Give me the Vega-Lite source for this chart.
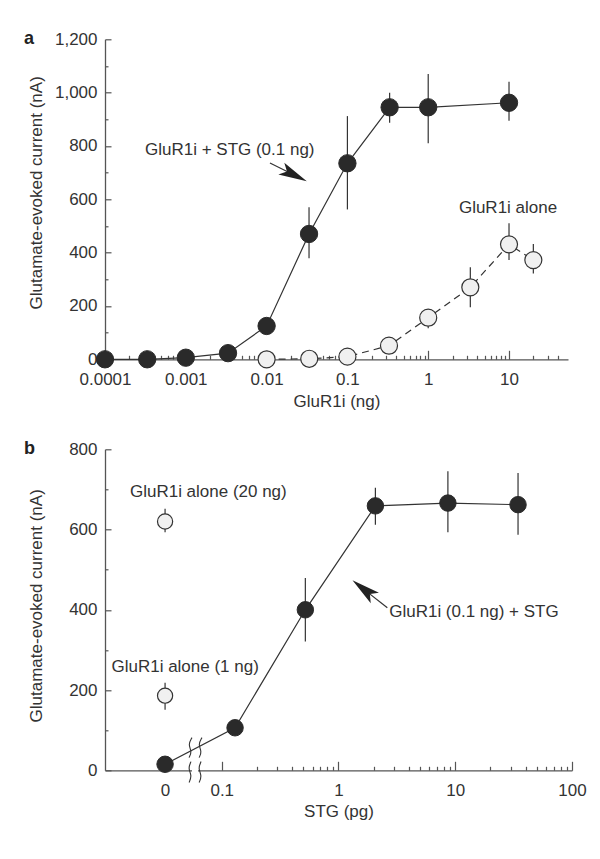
{
  "$schema": "https://vega.github.io/schema/vega-lite/v6.json",
  "background": "white",
  "padding": {"left": 24, "top": 29.3, "right": 5, "bottom": 5},
  "spacing": 90,
  "bounds": "flush",
  "config": {
    "view": {"stroke": null},
    "font": "Liberation Sans",
    "axis": {
      "domainColor": "#555", "tickColor": "#555", "labelColor": "#333", "titleColor": "#333",
      "labelFont": "Liberation Sans", "titleFont": "Liberation Sans",
      "labelFontSize": 17, "titleFontSize": 17, "titleFontWeight": "normal",
      "grid": false, "labelFlush": false, "labelOverlap": false, "labelBound": false,
      "domainWidth": 1.3, "tickWidth": 1.2
    },
    "text": {"font": "Liberation Sans", "fontSize": 17, "color": "#333"}
  },
  "datasets": {
    "a_stg": [
      {"dose": 0.0001, "current": 0, "lo": -8, "hi": 8},
      {"dose": 0.000333, "current": 0, "lo": -8, "hi": 8},
      {"dose": 0.001, "current": 6, "lo": -4, "hi": 16},
      {"dose": 0.00333, "current": 23, "lo": 10, "hi": 36},
      {"dose": 0.01, "current": 125, "lo": 105, "hi": 145},
      {"dose": 0.0335, "current": 470, "lo": 379, "hi": 570},
      {"dose": 0.1, "current": 735, "lo": 562, "hi": 912},
      {"dose": 0.333, "current": 945, "lo": 887, "hi": 1000},
      {"dose": 1, "current": 945, "lo": 810, "hi": 1070},
      {"dose": 10, "current": 962, "lo": 895, "hi": 1041}
    ],
    "a_alone": [
      {"dose": 0.01, "current": 0, "lo": -8, "hi": 8},
      {"dose": 0.0337, "current": 2, "lo": -6, "hi": 10},
      {"dose": 0.1, "current": 10, "lo": 0, "hi": 20},
      {"dose": 0.327, "current": 51, "lo": 35, "hi": 67},
      {"dose": 1, "current": 156, "lo": 116, "hi": 185},
      {"dose": 3.32, "current": 270, "lo": 195, "hi": 345},
      {"dose": 10, "current": 431, "lo": 372, "hi": 510},
      {"dose": 20, "current": 372, "lo": 322, "hi": 432}
    ],
    "a_text": [
      {"dose": 0.000313, "current": 767, "label": "GluR1i + STG (0.1 ng)"},
      {"dose": 2.4, "current": 547, "label": "GluR1i alone"}
    ],
    "a_arrow": [
      {"dose": 0.011, "current": 736, "dose2": 0.021, "current2": 694, "angle": 116.6}
    ],
    "b_stg": [
      {"dose": 0.0327, "stg_pg": 0, "current": 15, "lo": 5, "hi": 25},
      {"dose": 0.13, "stg_pg": 0.13, "current": 106, "lo": 96, "hi": 116},
      {"dose": 0.52, "stg_pg": 0.52, "current": 400, "lo": 321, "hi": 479},
      {"dose": 2.07, "stg_pg": 2.07, "current": 659, "lo": 612, "hi": 704},
      {"dose": 8.65, "stg_pg": 8.65, "current": 666, "lo": 593, "hi": 745},
      {"dose": 34.5, "stg_pg": 34.5, "current": 662, "lo": 587, "hi": 741}
    ],
    "b_alone": [
      {"dose": 0.0327, "stg_pg": 0, "current": 620, "lo": 593, "hi": 652},
      {"dose": 0.0327, "stg_pg": 0, "current": 186, "lo": 151, "hi": 218}
    ],
    "b_text": [
      {"dose": 0.01637, "current": 681, "label": "GluR1i alone (20 ng)"},
      {"dose": 0.01137, "current": 245, "label": "GluR1i alone (1 ng)"},
      {"dose": 2.72, "current": 383, "label": "GluR1i (0.1 ng) + STG"}
    ],
    "b_arrow": [
      {"dose": 2.62, "current": 405, "dose2": 1.683, "current2": 449, "angle": 308.2}
    ],
    "b_break": [
      {"g": "L1", "o": 1, "dose": 0.0556, "current": 81.4},
      {"g": "L1", "o": 2, "dose": 0.0514, "current": 64},
      {"g": "L1", "o": 3, "dose": 0.0556, "current": 46.6},
      {"g": "L1", "o": 4, "dose": 0.0525, "current": 31.6},
      {"g": "L2", "o": 1, "dose": 0.0545, "current": 21.7},
      {"g": "L2", "o": 2, "dose": 0.0514, "current": 4.2},
      {"g": "L2", "o": 3, "dose": 0.0556, "current": -13.2},
      {"g": "L2", "o": 4, "dose": 0.0525, "current": -30.6},
      {"g": "R1", "o": 1, "dose": 0.0677, "current": 81.4},
      {"g": "R1", "o": 2, "dose": 0.0626, "current": 64},
      {"g": "R1", "o": 3, "dose": 0.0677, "current": 46.6},
      {"g": "R1", "o": 4, "dose": 0.064, "current": 31.6},
      {"g": "R2", "o": 1, "dose": 0.0665, "current": 21.7},
      {"g": "R2", "o": 2, "dose": 0.0626, "current": 4.2},
      {"g": "R2", "o": 3, "dose": 0.0677, "current": -13.2},
      {"g": "R2", "o": 4, "dose": 0.064, "current": -30.6}
    ],
    "b_gap": [
      {"dose": 0.0556, "dose2": 0.0626, "current": -8, "current2": 8}
    ]
  },
  "vconcat": [
    {
      "width": 463,
      "height": 320,
      "title": {"text": "a", "anchor": "start", "frame": "group", "dx": -81, "offset": -17.7, "fontSize": 18, "fontWeight": "bold", "color": "#222", "font": "Liberation Sans"},
      "encoding": {
        "x": {
          "field": "dose", "type": "quantitative",
          "scale": {"type": "log", "domain": [0.0001, 53.7], "nice": false},
          "axis": {
            "title": "GluR1i (ng)",
            "values": [0.0001, 0.0002, 0.0003, 0.0004, 0.0005, 0.0006, 0.0007, 0.0008, 0.0009,
                       0.001, 0.002, 0.003, 0.004, 0.005, 0.006, 0.007, 0.008, 0.009,
                       0.01, 0.02, 0.03, 0.04, 0.05, 0.06, 0.07, 0.08, 0.09,
                       0.1, 0.2, 0.3, 0.4, 0.5, 0.6, 0.7, 0.8, 0.9,
                       1, 2, 3, 4, 5, 6, 7, 8, 9, 10, 20, 30, 40],
            "labelExpr": "abs(log(datum.value)/LN10 - round(log(datum.value)/LN10)) < 0.000001 ? format(datum.value, '~g') : ''",
            "tickSize": {"condition": {"test": "abs(log(datum.value)/LN10 - round(log(datum.value)/LN10)) < 0.000001", "value": -9}, "value": -4},
            "labelPadding": 21,
            "titlePadding": 1
          }
        },
        "y": {
          "field": "current", "type": "quantitative",
          "scale": {"domain": [0, 1200], "nice": false},
          "axis": {
            "title": "Glutamate-evoked current (nA)",
            "values": [0, 100, 200, 300, 400, 500, 600, 700, 800, 900, 1000, 1100, 1200],
            "labelExpr": "datum.value % 200 === 0 ? format(datum.value, ',') : ''",
            "tickSize": {"condition": {"test": "datum.value % 200 === 0", "value": -6}, "value": -3},
            "labelPadding": 14,
            "titleX": -64, "titleY": 153, "titleBaseline": "alphabetic"
          }
        }
      },
      "layer": [
        {"data": {"name": "a_stg"}, "mark": {"type": "rule", "color": "#333", "strokeWidth": 1.2},
         "encoding": {"y": {"field": "lo", "type": "quantitative"}, "y2": {"field": "hi"}}},
        {"data": {"name": "a_alone"}, "mark": {"type": "rule", "color": "#333", "strokeWidth": 1.2},
         "encoding": {"y": {"field": "lo", "type": "quantitative"}, "y2": {"field": "hi"}}},
        {"data": {"name": "a_stg"}, "mark": {"type": "line", "color": "#333", "strokeWidth": 1.2}, "encoding": {}},
        {"data": {"name": "a_alone"}, "mark": {"type": "line", "color": "#333", "strokeWidth": 1.2, "strokeDash": [7, 5]}, "encoding": {}},
        {"data": {"name": "a_stg"}, "mark": {"type": "point", "filled": true, "fill": "#2a2a2a", "stroke": "#2a2a2a", "strokeWidth": 1, "size": 300, "opacity": 1}, "encoding": {}},
        {"data": {"name": "a_alone"}, "mark": {"type": "point", "filled": true, "fill": "#f0f0f0", "stroke": "#333", "strokeWidth": 1.2, "size": 290, "opacity": 1}, "encoding": {}},
        {"data": {"name": "a_text"}, "mark": {"type": "text", "align": "left", "baseline": "alphabetic"}, "encoding": {"text": {"field": "label"}}},
        {"data": {"name": "a_arrow"}, "mark": {"type": "rule", "color": "#333", "strokeWidth": 1.2},
         "encoding": {"x2": {"field": "dose2"}, "y2": {"field": "current2"}}},
        {"data": {"name": "a_arrow"}, "mark": {"type": "point", "filled": true, "fill": "#222", "strokeWidth": 0, "size": 1000, "opacity": 1, "shape": "M0,-1 L0.42,0.8 L0,0.4 L-0.42,0.8 Z"},
         "encoding": {"x": {"field": "dose2", "type": "quantitative"}, "y": {"field": "current2", "type": "quantitative"}, "angle": {"field": "angle", "type": "quantitative", "scale": null}}}
      ]
    },
    {
      "width": 467,
      "height": 321,
      "title": {"text": "b", "anchor": "start", "frame": "group", "dx": -81, "offset": -17.7, "fontSize": 18, "fontWeight": "bold", "color": "#222", "font": "Liberation Sans"},
      "encoding": {
        "x": {
          "field": "dose", "type": "quantitative",
          "scale": {"type": "log", "domain": [0.01, 100], "nice": false},
          "axis": {
            "title": "STG (pg)",
            "values": [0.0327, 0.1, 0.2, 0.3, 0.4, 0.5, 0.6, 0.7, 0.8, 0.9,
                       1, 2, 3, 4, 5, 6, 7, 8, 9, 10, 20, 30, 40, 50, 60, 70, 80, 90, 100],
            "labelExpr": "datum.value < 0.05 ? '0' : (abs(log(datum.value)/LN10 - round(log(datum.value)/LN10)) < 0.000001 ? format(datum.value, '~g') : '')",
            "tickSize": {"condition": {"test": "datum.value < 0.05 || abs(log(datum.value)/LN10 - round(log(datum.value)/LN10)) < 0.000001", "value": -9}, "value": -4},
            "tickOpacity": {"condition": {"test": "datum.value < 0.05", "value": 0}, "value": 1},
            "labelPadding": 21,
            "titlePadding": 0
          }
        },
        "y": {
          "field": "current", "type": "quantitative",
          "scale": {"domain": [0, 800], "nice": false},
          "axis": {
            "title": "Glutamate-evoked current (nA)",
            "values": [0, 100, 200, 300, 400, 500, 600, 700, 800],
            "labelExpr": "datum.value % 200 === 0 ? format(datum.value, ',') : ''",
            "tickSize": {"condition": {"test": "datum.value % 200 === 0", "value": -6}, "value": -3},
            "labelPadding": 14,
            "titleX": -64, "titleY": 156, "titleBaseline": "alphabetic"
          }
        }
      },
      "layer": [
        {"data": {"name": "b_gap"}, "mark": {"type": "rect", "color": "white"},
         "encoding": {"x2": {"field": "dose2"}, "y2": {"field": "current2"}}},
        {"data": {"name": "b_break"}, "mark": {"type": "line", "color": "#333", "strokeWidth": 1.1, "interpolate": "basis"},
         "encoding": {"detail": {"field": "g"}, "order": {"field": "o"}}},
        {"data": {"name": "b_stg"}, "mark": {"type": "rule", "color": "#333", "strokeWidth": 1.2},
         "encoding": {"y": {"field": "lo", "type": "quantitative"}, "y2": {"field": "hi"}}},
        {"data": {"name": "b_alone"}, "mark": {"type": "rule", "color": "#333", "strokeWidth": 1.2},
         "encoding": {"y": {"field": "lo", "type": "quantitative"}, "y2": {"field": "hi"}}},
        {"data": {"name": "b_stg"}, "mark": {"type": "line", "color": "#333", "strokeWidth": 1.2}, "encoding": {}},
        {"data": {"name": "b_stg"}, "mark": {"type": "point", "filled": true, "fill": "#2a2a2a", "stroke": "#2a2a2a", "strokeWidth": 1, "size": 270, "opacity": 1}, "encoding": {}},
        {"data": {"name": "b_alone"}, "mark": {"type": "point", "filled": true, "fill": "#f0f0f0", "stroke": "#333", "strokeWidth": 1.2, "size": 230, "opacity": 1}, "encoding": {}},
        {"data": {"name": "b_text"}, "mark": {"type": "text", "align": "left", "baseline": "alphabetic"}, "encoding": {"text": {"field": "label"}}},
        {"data": {"name": "b_arrow"}, "mark": {"type": "rule", "color": "#333", "strokeWidth": 1.2},
         "encoding": {"x2": {"field": "dose2"}, "y2": {"field": "current2"}}},
        {"data": {"name": "b_arrow"}, "mark": {"type": "point", "filled": true, "fill": "#222", "strokeWidth": 0, "size": 1000, "opacity": 1, "shape": "M0,-1 L0.42,0.8 L0,0.4 L-0.42,0.8 Z"},
         "encoding": {"x": {"field": "dose2", "type": "quantitative"}, "y": {"field": "current2", "type": "quantitative"}, "angle": {"field": "angle", "type": "quantitative", "scale": null}}}
      ]
    }
  ]
}
